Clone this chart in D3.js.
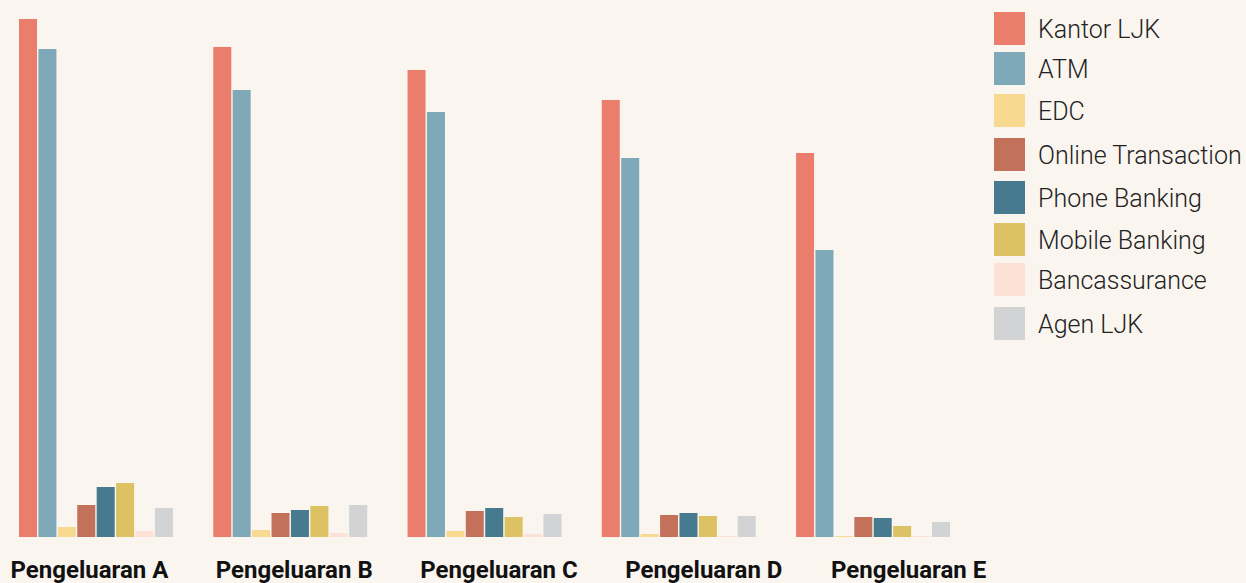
<!DOCTYPE html>
<html>
<head>
<meta charset="utf-8">
<script src="https://cdn.jsdelivr.net/npm/d3@7"></script>
<style>
  html, body { margin: 0; padding: 0; background: #FAF5EF; }
  svg { display: block; }
</style>
</head>
<body>
<svg id="chart" width="1246" height="583"></svg>
<script>
const categories = ["Pengeluaran A", "Pengeluaran B", "Pengeluaran C", "Pengeluaran D", "Pengeluaran E"];
const seriesNames = ["Kantor LJK", "ATM", "EDC", "Online Transaction", "Phone Banking", "Mobile Banking", "Bancassurance", "Agen LJK"];
const kantorLJK = [518, 490, 467, 437, 384];
const atm = [488, 447, 425, 379, 287];
const edc = [10, 7, 6, 3, 1];
const onlineTransaction = [32, 24, 26, 22, 20];
const phoneBanking = [50, 27, 29, 24, 19];
const mobileBanking = [54, 31, 20, 21, 11];
const bancassurance = [6, 4, 3, 1, 1];
const agenLJK = [29, 32, 23, 21, 15];
const seriesColors = ["#EB7D6D", "#7FA8B8", "#F7DA8F", "#C3715B", "#477A8F", "#DDC263", "#FDE1D7", "#D2D3D5"];

const seriesValues = [kantorLJK, atm, edc, onlineTransaction, phoneBanking, mobileBanking, bancassurance, agenLJK];
const legendY = [12, 52, 94, 138, 181, 223, 263, 307];

const svg = d3.select("#chart");
const baseline = 537;

const x0 = d3.scaleBand().domain(categories).range([19, 950]).paddingInner(0.2075).paddingOuter(0);
const x1 = d3.scaleBand().domain(seriesNames).range([0, x0.bandwidth()]).paddingInner(0.0735).paddingOuter(0);
const y = d3.scaleLinear().domain([0, 530]).range([baseline, baseline - 530]);
const color = d3.scaleOrdinal().domain(seriesNames).range(seriesColors);

const groups = svg.append("g").selectAll("g")
  .data(categories)
  .join("g")
  .attr("transform", d => `translate(${x0(d)},0)`);

groups.selectAll("rect")
  .data((c, ci) => seriesNames.map((s, si) => ({ s, v: seriesValues[si][ci] })))
  .join("rect")
  .attr("x", d => x1(d.s))
  .attr("width", x1.bandwidth())
  .attr("y", d => y(d.v))
  .attr("height", d => y(0) - y(d.v))
  .attr("fill", d => color(d.s));

// category labels (bottom axis)
const xLabel = d3.scaleBand().domain(categories).range([-13, 1011]);
const xAxis = d3.axisBottom(xLabel).tickSize(0).tickPadding(0);
const ax = svg.append("g").attr("transform", "translate(0,561)").call(xAxis);
ax.select(".domain").remove();
ax.selectAll("text")
  .attr("font-family", "Roboto, sans-serif")
  .attr("font-weight", "bold")
  .attr("font-size", 24)
  .attr("fill", "#111")
  .attr("dy", "0.71em");

// legend
const legend = svg.append("g").selectAll("g")
  .data(seriesNames)
  .join("g")
  .attr("transform", (d, i) => `translate(994,${legendY[i]})`);
legend.append("rect")
  .attr("width", 31).attr("height", 33)
  .attr("fill", d => color(d));
legend.append("text")
  .attr("x", 44).attr("y", 17.5).attr("dy", "0.35em")
  .attr("font-family", "Roboto, sans-serif")
  .attr("font-weight", 300)
  .attr("font-size", 25)
  .attr("fill", "#222")
  .text(d => d);
</script>
</body>
</html>
